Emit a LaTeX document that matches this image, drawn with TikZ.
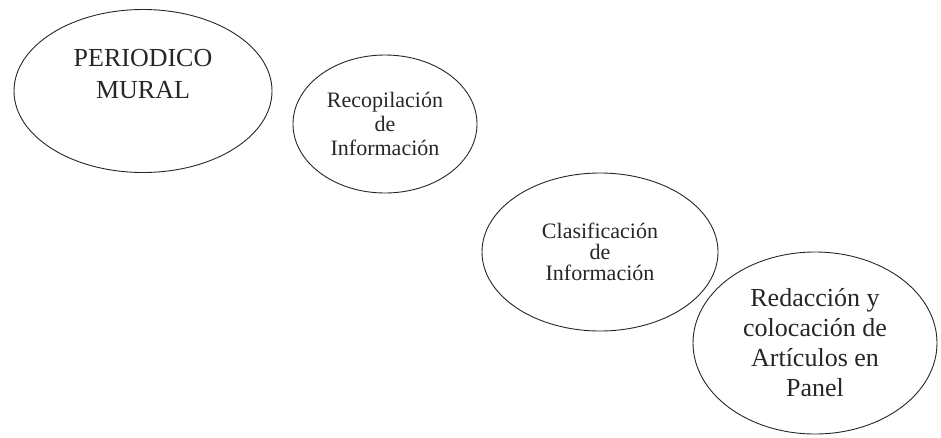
\documentclass[tikz,border=0pt]{standalone}
\usepackage{fontspec}
\setmainfont{Liberation Serif}
\usetikzlibrary{shapes.geometric}
\begin{document}
\begin{tikzpicture}[x=1pt,y=-1pt,
  stage/.style={draw=black!85, line width=0.9pt, ellipse, inner sep=0pt, align=center, text=black!85},
]
\useasboundingbox (0,0) rectangle (941,437);
% title oval, text sits in its upper half
\node[stage, minimum width=258pt, minimum height=163pt] (mural) at (143,91) {};
\node[font=\fontsize{26}{32}\selectfont, align=center, text=black!85] (muraltxt) at (143,74) {PERIODICO\\MURAL};
% process steps
\node[stage, minimum width=184pt, minimum height=138pt,
      font=\fontsize{22}{24}\selectfont] (recop) at (385,124) {Recopilación\\de\\Información};
\node[stage, minimum width=236pt, minimum height=158pt,
      font=\fontsize{22}{21}\selectfont] (clasif) at (600,252) {Clasificación\\de\\Información};
\node[stage, minimum width=244pt, minimum height=182pt,
      font=\fontsize{26}{30}\selectfont] (redac) at (815,343) {Redacción y\\colocación de\\Artículos en\\Panel};
\end{tikzpicture}
\end{document}
